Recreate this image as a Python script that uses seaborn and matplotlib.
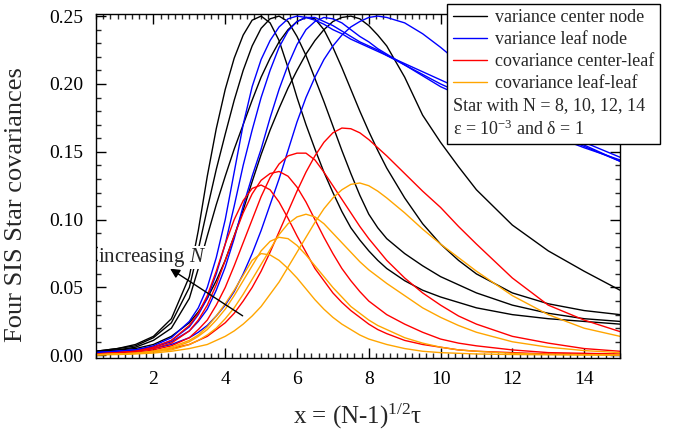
import seaborn as sns
import pandas as pd
import matplotlib.pyplot as plt
import matplotlib.ticker as ticker
from matplotlib.lines import Line2D

# x = (N-1)^(1/2) tau, shared sampling for all curves
x_vals = [0.4, 1, 1.5, 2, 2.5,
          3, 3.25, 3.5, 3.75, 4, 4.25, 4.5, 4.75, 5, 5.25, 5.5, 5.75,
          6, 6.25, 6.5, 6.75, 7, 7.25, 7.5, 7.75, 8, 8.25, 8.5,
          9, 9.5, 10, 10.5, 11, 12, 13, 14, 15]

# variance center node
var_center_n14 = [.003, .005, .008, .014, .027,
                  .058, .092, .132, .167, .196, .219, .236, .247, .250, .245, .232, .212,
                  .190, .170, .152, .135, .120, .106, .094, .085, .077, .070, .064,
                  .055, .048, .043, .039, .035, .030, .027, .025, .023]
var_center_n12 = [.003, .005, .007, .013, .024,
                  .050, .078, .108, .137, .163, .188, .210, .228, .241, .248, .250, .246,
                  .235, .221, .204, .187, .169, .151, .134, .118, .104, .094, .086,
                  .075, .066, .058, .052, .046, .037, .031, .027, .025]
var_center_n10 = [.003, .004, .006, .011, .020,
                  .042, .064, .088, .111, .132, .152, .170, .188, .205, .219, .231, .240,
                  .246, .249, .248, .240, .227, .212, .196, .180, .165, .151, .138,
                  .116, .097, .082, .070, .060, .046, .038, .033, .030]
var_center_n8 = [.002, .004, .005, .008, .014,
                 .024, .032, .042, .055, .070, .088, .107, .128, .148, .166, .182, .197,
                 .210, .222, .232, .240, .246, .249, .250, .248, .243, .236, .228,
                 .205, .177, .157, .139, .122, .096, .077, .062, .048]

# variance leaf node
var_leaf_n14 = [.002, .003, .004, .007, .013,
                .025, .035, .050, .072, .100, .135, .170, .198, .218, .232, .242, .248,
                .250, .249, .247, .244, .240, .237, .233, .230, .227, .224, .221,
                .215, .209, .203, .197, .190, .178, .166, .155, .143]
var_leaf_n12 = [.002, .003, .004, .006, .011,
                .021, .030, .042, .060, .082, .110, .140, .166, .190, .210, .227, .239,
                .246, .249, .249, .246, .243, .239, .235, .231, .228, .225, .221,
                .214, .207, .200, .194, .188, .176, .165, .154, .143]
var_leaf_n10 = [.002, .003, .004, .006, .010,
                .018, .025, .034, .048, .065, .086, .110, .132, .152, .175, .196, .214,
                .229, .240, .246, .249, .248, .245, .240, .235, .231, .226, .222,
                .214, .206, .198, .192, .186, .174, .163, .153, .144]
var_leaf_n8 = [.001, .002, .003, .005, .008,
               .013, .017, .022, .029, .037, .047, .060, .075, .092, .111, .130, .151,
               .172, .190, .205, .218, .228, .236, .242, .246, .249, .250, .249,
               .245, .237, .227, .216, .205, .186, .170, .157, .146]

# covariance center-leaf
cov_cl_n14 = [.001, .002, .003, .006, .011,
              .022, .031, .044, .062, .082, .100, .114, .123, .1255, .122, .113, .101,
              .088, .076, .064, .055, .046, .039, .033, .028, .023, .019, .016,
              .011, .008, .006, .004, .003, .002, .001, .001, .0005]
cov_cl_n12 = [.001, .002, .003, .005, .009,
              .018, .026, .037, .052, .070, .088, .105, .119, .129, .134, .1355, .132,
              .124, .113, .100, .087, .075, .064, .055, .047, .040, .035, .030,
              .023, .017, .012, .009, .007, .004, .002, .0015, .001]
cov_cl_n10 = [.001, .0015, .002, .004, .007,
              .013, .019, .026, .037, .050, .066, .083, .100, .117, .131, .141, .147,
              .149, .149, .144, .135, .125, .115, .105, .095, .086, .078, .070,
              .057, .046, .037, .029, .023, .014, .009, .005, .003]
cov_cl_n8 = [.001, .001, .002, .003, .005,
             .008, .011, .014, .019, .024, .031, .040, .050, .062, .076, .091, .106,
             .121, .135, .147, .157, .164, .1675, .167, .164, .159, .153, .147,
             .134, .121, .109, .095, .082, .057, .037, .026, .0175]

# covariance leaf-leaf
cov_ll_n14 = [.0005, .001, .0015, .003, .006,
              .011, .015, .021, .029, .038, .048, .059, .070, .075, .074, .070, .064,
              .057, .049, .041, .034, .028, .023, .019, .015, .012, .010, .008,
              .005, .003, .002, .0015, .001, .0006, .0004, .0002, .0001]
cov_ll_n12 = [.0005, .001, .0015, .003, .005,
              .010, .014, .019, .026, .034, .044, .055, .066, .077, .084, .087, .086,
              .081, .074, .066, .058, .050, .043, .036, .031, .026, .022, .019,
              .013, .009, .006, .004, .003, .0015, .0008, .0005, .0003]
cov_ll_n10 = [.0004, .001, .0015, .0025, .004,
              .008, .011, .015, .020, .027, .035, .045, .056, .067, .078, .089, .097,
              .102, .104, .102, .097, .090, .083, .076, .069, .063, .058, .053,
              .044, .035, .028, .022, .017, .010, .006, .0035, .002]
cov_ll_n8 = [.0003, .0006, .001, .0017, .003,
             .005, .0065, .008, .011, .014, .018, .023, .029, .036, .045, .054, .065,
             .076, .087, .098, .108, .116, .122, .126, .127, .125, .121, .116,
             .105, .093, .082, .072, .062, .044, .030, .020, .014]

series_names = ["variance center node", "variance leaf node",
                "covariance center-leaf", "covariance leaf-leaf"]
series_colors = ["black", "blue", "red", "orange"]
n_values = [14, 12, 10, 8]
series_data = {
    "variance center node": [var_center_n14, var_center_n12, var_center_n10, var_center_n8],
    "variance leaf node": [var_leaf_n14, var_leaf_n12, var_leaf_n10, var_leaf_n8],
    "covariance center-leaf": [cov_cl_n14, cov_cl_n12, cov_cl_n10, cov_cl_n8],
    "covariance leaf-leaf": [cov_ll_n14, cov_ll_n12, cov_ll_n10, cov_ll_n8],
}
extra_lines = ["Star with N = 8, 10, 12, 14", "ε = 10$^{-3}$ and δ = 1"]

rows = []
for name in series_names:
    for n, vals in zip(n_values, series_data[name]):
        assert len(vals) == len(x_vals), (name, n)
        for xv, yv in zip(x_vals, vals):
            rows.append({"x": xv, "value": yv, "series": name, "N": n})
df = pd.DataFrame(rows)

sns.set_style("ticks")
plt.rcParams.update({
    "font.family": ["Liberation Serif", "DejaVu Serif"],
    "mathtext.fontset": "custom",
    "mathtext.rm": "Liberation Serif",
    "mathtext.it": "Liberation Serif:italic",
    "mathtext.bf": "Liberation Serif:bold",
    "axes.linewidth": 1.0,
    "axes.edgecolor": "black",
    "xtick.direction": "in",
    "ytick.direction": "in",
    "xtick.top": True,
    "ytick.right": True,
})

fig = plt.figure(figsize=(6.82, 4.34), dpi=100)
ax = fig.add_axes([0.1408, 0.175, 0.7683, 0.7926])

sns.lineplot(data=df, x="x", y="value", hue="series", units="N", estimator=None,
             hue_order=series_names, palette=dict(zip(series_names, series_colors)),
             sort=False, legend=False, lw=1.0, ax=ax)

ax.set_xlim(0.4, 15.0)
ax.set_ylim(-0.002, 0.2515)
ax.xaxis.set_major_locator(ticker.MultipleLocator(2))
ax.xaxis.set_minor_locator(ticker.MultipleLocator(0.2))
ax.yaxis.set_major_locator(ticker.MultipleLocator(0.05))
ax.yaxis.set_minor_locator(ticker.MultipleLocator(0.01))
ax.yaxis.set_major_formatter(ticker.FormatStrFormatter("%.2f"))
ax.tick_params(which="major", length=7, width=1.0, labelsize=14, colors="black")
ax.tick_params(which="minor", length=3.5, width=1.0, top=True, right=True)
ax.tick_params(axis="x", which="major", pad=9)
ax.tick_params(axis="y", which="major", pad=9)

ax.set_xlabel("x = (N-1)$^{1/2}$τ", fontsize=18, labelpad=10)
ax.set_ylabel("Four SIS Star covariances", fontsize=19)
ax.yaxis.set_label_coords(-0.132, 0.445)

ax.annotate("", xy=(2.40, 0.065), xytext=(4.55, 0.028),
            arrowprops=dict(arrowstyle="-|>", color="black", lw=1.0, mutation_scale=14))
ax.text(0.45, 0.072, "increasing $N$", fontsize=15, va="center", ha="left",
        bbox=dict(facecolor="white", edgecolor="none", pad=0))

handles = [Line2D([], [], color=c, lw=1.0) for c in series_colors]
handles += [Line2D([], [], color="none") for _ in extra_lines]
labels = series_names + extra_lines
leg = ax.legend(handles, labels, loc="upper left", bbox_to_anchor=(0.67, 1.03),
                borderaxespad=0, fontsize=13, frameon=True, fancybox=False,
                framealpha=1, edgecolor="black", handlelength=1.9,
                handletextpad=0.45, labelspacing=0.28, borderpad=0.3)
leg.get_frame().set_linewidth(1.0)
leg.set_zorder(5)

# the two note rows have no line sample: drop their handle space
item_boxes = leg._legend_handle_box.get_children()[0].get_children()
for box in item_boxes[4:]:
    box.sep = 0
    box.get_children()[0].width = 0

fig.savefig("out.png", dpi=100)
